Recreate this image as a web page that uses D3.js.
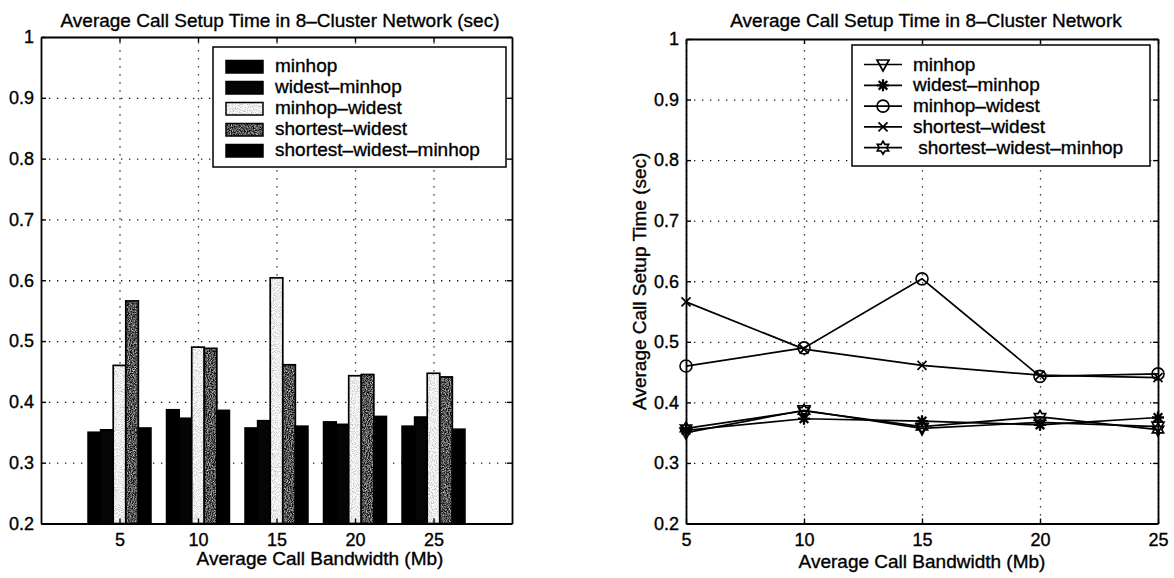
<!DOCTYPE html>
<html>
<head>
<meta charset="utf-8">
<script src="https://cdn.jsdelivr.net/npm/d3@7"></script>
<style>
  body { margin: 0; background: #fff; }
  text { font-family: "Liberation Sans", Arial, Helvetica, sans-serif; fill: #000; stroke: #000; stroke-width: 0.35px; }
  .grid line { stroke: #111; stroke-width: 1.3; stroke-dasharray: 1.3 6.7; }
  .grid path { display: none; }
  .ax path { stroke: #000; stroke-width: 1.8; }
  .ax line { stroke: #000; stroke-width: 1.4; }
  .ax text { font-size: 18px; }
</style>
</head>
<body>
<svg id="chart" width="1174" height="578">
  <defs>
    <!-- grainy gray fills for the two shaded bar series -->
    <filter id="grainDark" x="0" y="0" width="1" height="1" filterUnits="objectBoundingBox"
            color-interpolation-filters="sRGB">
      <feTurbulence type="fractalNoise" baseFrequency="0.95" numOctaves="2" seed="4" result="n"/>
      <feColorMatrix in="n" type="matrix"
        values="1.5 0 0 0 -0.42  1.5 0 0 0 -0.42  1.5 0 0 0 -0.42  0 0 0 0 1"/>
    </filter>
    <filter id="grainLight" x="0" y="0" width="1" height="1" filterUnits="objectBoundingBox"
            color-interpolation-filters="sRGB">
      <feTurbulence type="fractalNoise" baseFrequency="0.95" numOctaves="2" seed="9" result="n"/>
      <feColorMatrix in="n" type="matrix"
        values="0.7 0 0 0 0.58  0.7 0 0 0 0.58  0.7 0 0 0 0.58  0 0 0 0 1"/>
    </filter>
    <pattern id="fillDark" patternUnits="userSpaceOnUse" width="1174" height="578">
      <rect width="1174" height="578" filter="url(#grainDark)"/>
    </pattern>
    <pattern id="fillLight" patternUnits="userSpaceOnUse" width="1174" height="578">
      <rect width="1174" height="578" filter="url(#grainLight)"/>
    </pattern>
  </defs>
</svg>
<script>
// ---- data: average call setup time (sec) per average call bandwidth (Mb)
const bandwidths = [5, 10, 15, 20, 25];
const seriesNames = ["minhop", "widest–minhop", "minhop–widest", "shortest–widest", "shortest–widest–minhop"];
const lineLegendNames = ["minhop", "widest–minhop", "minhop–widest", "shortest–widest", " shortest–widest–minhop"];
const minhop               = [0.350, 0.387, 0.357, 0.367, 0.360];
const widestMinhop         = [0.354, 0.373, 0.369, 0.363, 0.375];
const minhopWidest         = [0.460, 0.490, 0.604, 0.443, 0.447];
const shortestWidest       = [0.566, 0.488, 0.461, 0.445, 0.441];
const shortestWidestMinhop = [0.357, 0.386, 0.360, 0.376, 0.355];

const yTicks = [0.2, 0.3, 0.4, 0.5, 0.6, 0.7, 0.8, 0.9, 1];
const yTickLabels = ["0.2", "0.3", "0.4", "0.5", "0.6", "0.7", "0.8", "0.9", "1"];
const xTickLabels = ["5", "10", "15", "20", "25"];
const yDomain = [0.2, 1];
const barXDomain = [0, 30];
const lineXDomain = [5, 25];

const leftTitle = "Average Call Setup Time in 8–Cluster Network (sec)";
const rightTitle = "Average Call Setup Time in 8–Cluster Network";
const xAxisTitle = "Average Call Bandwidth (Mb)";
const yAxisTitle = "Average Call Setup Time (sec)";

const allSeries = [minhop, widestMinhop, minhopWidest, shortestWidest, shortestWidestMinhop];

// ---- layout
const svg = d3.select("#chart");
const FS = 19;
const leftBox = { x0: 41, x1: 512, y0: 37, y1: 523.5 };
const rightBox = { x0: 686, x1: 1158, y0: 39, y1: 523.5 };

const xBar = d3.scaleLinear().domain(barXDomain).range([leftBox.x0, leftBox.x1]);
const yBar = d3.scaleLinear().domain(yDomain).range([leftBox.y1, leftBox.y0]);
const xLine = d3.scaleLinear().domain(lineXDomain).range([rightBox.x0, rightBox.x1]);
const yLine = d3.scaleLinear().domain(yDomain).range([rightBox.y1, rightBox.y0]);

const barFills = ["#000", "#050505", "url(#fillLight)", "url(#fillDark)", "#000"];

function drawGrid(x, y, box) {
  const g = svg.append("g");
  g.append("g").attr("class", "grid")
    .attr("transform", `translate(0,${box.y1})`)
    .call(d3.axisBottom(x).tickValues(bandwidths).tickSize(-(box.y1 - box.y0)).tickFormat(""));
  g.append("g").attr("class", "grid")
    .attr("transform", `translate(${box.x0},0)`)
    .call(d3.axisLeft(y).tickValues(yTicks.slice(1, -1)).tickSize(-(box.x1 - box.x0)).tickFormat(""));
}

function drawAxes(x, y, box, xLabelPad) {
  const fmtY = (d, i) => yTickLabels[i];
  const fmtX = (d, i) => xTickLabels[i];
  svg.append("g").attr("class", "ax").attr("transform", `translate(${box.x0},0)`)
    .call(d3.axisLeft(y).tickValues(yTicks).tickFormat(fmtY).tickSize(-5).tickSizeOuter(0).tickPadding(7));
  svg.append("g").attr("class", "ax").attr("transform", `translate(${box.x1},0)`)
    .call(d3.axisRight(y).tickValues(yTicks).tickFormat("").tickSize(-5).tickSizeOuter(0));
  svg.append("g").attr("class", "ax").attr("transform", `translate(0,${box.y1})`)
    .call(d3.axisBottom(x).tickValues(bandwidths).tickFormat(fmtX).tickSize(-5).tickSizeOuter(0).tickPadding(xLabelPad));
  svg.append("g").attr("class", "ax").attr("transform", `translate(0,${box.y0})`)
    .call(d3.axisTop(x).tickValues(bandwidths).tickFormat("").tickSize(-5).tickSizeOuter(0));
  svg.selectAll(".ax text").attr("fill", "#000");
}

// ---- left panel: grouped bars
drawGrid(xBar, yBar, leftBox);

const groupWidth = 4;              // in x units (0.8 of the 5 Mb spacing)
const barW = groupWidth / allSeries.length;
const barData = [];
allSeries.forEach((vals, j) => {
  vals.forEach((v, i) => barData.push({ j, b: bandwidths[i], v }));
});
svg.append("g").selectAll("rect").data(barData).join("rect")
  .attr("x", d => xBar(d.b - groupWidth / 2 + d.j * barW))
  .attr("width", d => xBar(d.b - groupWidth / 2 + (d.j + 1) * barW) - xBar(d.b - groupWidth / 2 + d.j * barW))
  .attr("y", d => yBar(d.v))
  .attr("height", d => yBar(yDomain[0]) - yBar(d.v))
  .attr("fill", d => barFills[d.j])
  .attr("stroke", "#000")
  .attr("stroke-width", 1.7);

drawAxes(xBar, yBar, leftBox, 10);

svg.append("text").attr("x", 280).attr("y", 27).attr("text-anchor", "middle")
  .attr("font-size", FS).text(leftTitle);
svg.append("text").attr("x", 320).attr("y", 565).attr("text-anchor", "middle")
  .attr("font-size", FS).text(xAxisTitle);

// left legend
const legL = svg.append("g");
legL.append("rect").attr("x", 213).attr("y", 47).attr("width", 293).attr("height", 120)
  .attr("fill", "#fff").attr("stroke", "#000").attr("stroke-width", 1.5);
seriesNames.forEach((name, j) => {
  const cy = 66.5 + j * 21;
  legL.append("rect").attr("x", 226).attr("y", cy - 6).attr("width", 37).attr("height", 12.5)
    .attr("fill", barFills[j]).attr("stroke", "#000").attr("stroke-width", 1.5);
  legL.append("text").attr("x", 275).attr("y", cy + 5.5).attr("font-size", FS).text(name);
});

// ---- right panel: lines with markers
drawGrid(xLine, yLine, rightBox);

const markerPaths = [
  // down-pointing triangle
  "M-6,-4.5L6,-4.5L0,6.5Z",
  // asterisk
  "M0,-6L0,6M-6,0L6,0M-4.3,-4.3L4.3,4.3M-4.3,4.3L4.3,-4.3",
  // circle (drawn as <circle>)
  "",
  // x mark
  "M-4.5,-4.5L4.5,4.5M-4.5,4.5L4.5,-4.5",
  // hexagram
  (() => {
    const pts = [];
    for (let k = 0; k < 12; k++) {
      const r = k % 2 === 0 ? 6.5 : 3.8;
      const a = -Math.PI / 2 + k * Math.PI / 6;
      pts.push([r * Math.cos(a), r * Math.sin(a)]);
    }
    return "M" + pts.map(p => p[0].toFixed(2) + "," + p[1].toFixed(2)).join("L") + "Z";
  })()
];

function drawMarker(g, j, x, y) {
  if (j === 2) {
    g.append("circle").attr("cx", x).attr("cy", y).attr("r", 6)
      .attr("fill", "none").attr("stroke", "#000").attr("stroke-width", 1.6);
  } else {
    g.append("path").attr("d", markerPaths[j]).attr("transform", `translate(${x},${y})`)
      .attr("fill", "none").attr("stroke", "#000")
      .attr("stroke-width", j === 1 ? 2.3 : 1.7);
  }
}

const line = d3.line().x((d, i) => xLine(bandwidths[i])).y(d => yLine(d));
const linesG = svg.append("g");
allSeries.forEach((vals, j) => {
  linesG.append("path").attr("d", line(vals)).attr("fill", "none")
    .attr("stroke", "#000").attr("stroke-width", 1.7);
  vals.forEach((v, i) => drawMarker(linesG, j, xLine(bandwidths[i]), yLine(v)));
});

drawAxes(xLine, yLine, rightBox, 10);

svg.append("text").attr("x", 926).attr("y", 27).attr("text-anchor", "middle")
  .attr("font-size", FS).text(rightTitle);
svg.append("text").attr("x", 922).attr("y", 568).attr("text-anchor", "middle")
  .attr("font-size", FS).text(xAxisTitle);
svg.append("text").attr("transform", `translate(646,${(rightBox.y0 + rightBox.y1) / 2}) rotate(-90)`)
  .attr("text-anchor", "middle").attr("font-size", FS).text(yAxisTitle);

// right legend
const legR = svg.append("g");
legR.append("rect").attr("x", 852).attr("y", 45).attr("width", 298).attr("height", 121)
  .attr("fill", "#fff").attr("stroke", "#000").attr("stroke-width", 1.5);
lineLegendNames.forEach((name, j) => {
  const cy = 64.5 + j * 20.8;
  legR.append("line").attr("x1", 864).attr("x2", 902).attr("y1", cy).attr("y2", cy)
    .attr("stroke", "#000").attr("stroke-width", 1.7);
  drawMarker(legR, j, 883, cy);
  legR.append("text").attr("x", 913).attr("y", cy + 6).attr("font-size", FS)
    .style("white-space", "pre").text(name);
});
</script>
</body>
</html>
